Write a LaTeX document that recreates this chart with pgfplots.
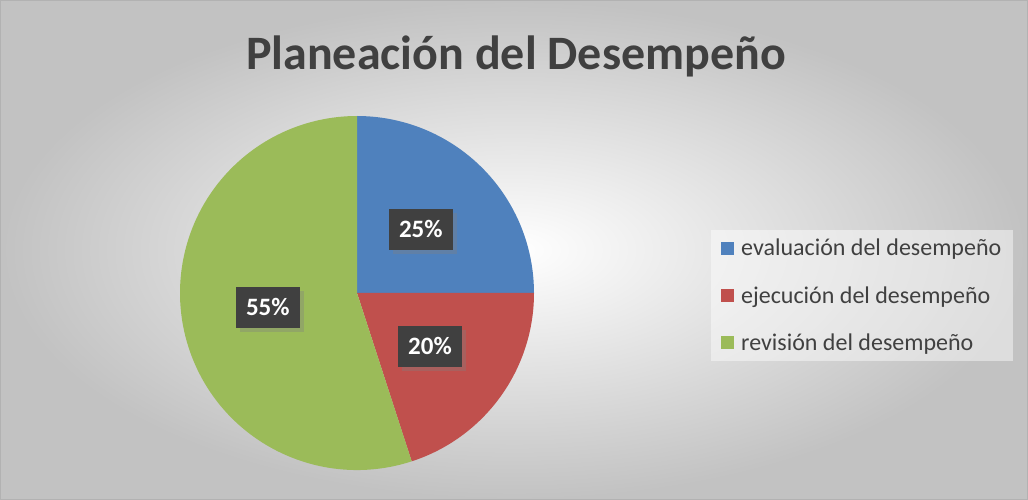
\documentclass[border=0pt]{standalone}
\usepackage{fontspec}
\setmainfont{Carlito}
\usepackage{pgfplots}
\pgfplotsset{compat=1.18}
\usepgfplotslibrary{polar}
\usetikzlibrary{shadows}
\definecolor{SliceBlue}{HTML}{4F81BD}
\definecolor{SliceRed}{HTML}{C0504D}
\definecolor{SliceGreen}{HTML}{9BBB59}
\definecolor{InkGray}{HTML}{404040}
\definecolor{LabelBox}{HTML}{404040}

\begin{document}
\begin{tikzpicture}
% chart area
\shade[inner color=white, outer color=black!24] (0pt,0pt) rectangle (1028pt,500pt);
\draw[black!30, line width=1pt] (0.5pt,0.5pt) rectangle (1027.5pt,499.5pt);

\begin{polaraxis}[
  at={(357pt,207pt)}, anchor=center,
  scale only axis, width=354pt, height=354pt,
  hide axis,
  xmin=0, xmax=360, ymin=0, ymax=1,
  clip=false,
  legend style={at={(1.5,0.678)}, anchor=north west, draw=none,
    fill=white, fill opacity=0.45, text opacity=1,
    font=\fontsize{24}{28}\selectfont, text=InkGray,
    row sep=25pt, inner xsep=10pt, inner ysep=7pt, cells={anchor=west},
    /tikz/every odd column/.append style={column sep=5pt}},
  legend image code/.code={\fill[#1, fill opacity=1] (0pt,-6.5pt) rectangle (13pt,6.5pt);},
]
% shares in percent: 25, 20, 55 -- clockwise from 12 o'clock, 3.6 degrees per percent
\addplot[fill=SliceBlue, draw=none] coordinates {(0,0) (90,1)}
  arc[start angle=90, delta angle={-3.6*25}, radius=177pt] -- cycle;
\addlegendentry{evaluación del desempeño}
\addplot[fill=SliceRed, draw=none] coordinates {(0,0) (360,1)}
  arc[start angle=0, delta angle={-3.6*20}, radius=177pt] -- cycle;
\addlegendentry{ejecución del desempeño}
\addplot[fill=SliceGreen, draw=none] coordinates {(0,0) (288,1)}
  arc[start angle=288, delta angle={-3.6*55}, radius=177pt] -- cycle;
\addlegendentry{revisión del desempeño}

% data labels at the middle of each slice
\addplot[draw=none, mark=none, forget plot,
  nodes near coords, point meta=explicit symbolic,
  nodes near coords style={anchor=center, fill=LabelBox, text=white,
    font=\fontsize{25}{29}\selectfont\bfseries,
    minimum width=64pt, minimum height=41pt, inner sep=0pt,
    drop shadow={shadow xshift=4pt, shadow yshift=-4pt, opacity=0.35}}]
  coordinates {(45,0.51) [25\%] (324,0.51) [20\%] (189,0.51) [55\%]};
\end{polaraxis}

\node[font=\fontsize{48}{54}\selectfont\bfseries, text=InkGray] at (516pt,444pt) {Planeación del Desempeño};
\end{tikzpicture}
\end{document}
